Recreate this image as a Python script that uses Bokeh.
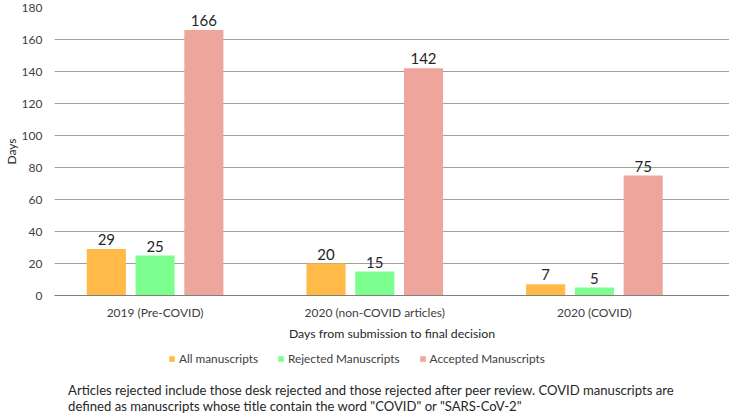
from bokeh.plotting import figure
from bokeh.layouts import column
from bokeh.models import (ColumnDataSource, Range1d, FixedTicker, Legend, LegendItem, Label)
from bokeh.transform import dodge
from bokeh.core.properties import value
from bokeh.embed import file_html
from bokeh.resources import INLINE

categories = ["2019 (Pre-COVID)", "2020 (non-COVID articles)", "2020 (COVID)"]
all_manuscripts = [29, 20, 7]
rejected_manuscripts = [25, 15, 5]
accepted_manuscripts = [166, 142, 75]
series_names = ["All manuscripts", "Rejected Manuscripts", "Accepted Manuscripts"]
y_ticks = [0, 20, 40, 60, 80, 100, 120, 140, 160, 180]
footnote = ["Articles rejected include those desk rejected and those rejected after peer review. COVID manuscripts are",
            "defined as manuscripts whose title contain the word \"COVID\" or \"SARS-CoV-2\""]

FONT = "Lato"
colors = ["#FFBA47", "#7DFF8F", "#EDA59C"]
offsets = [-0.222, 0.0, 0.222]
cols = ["all", "rej", "acc"]

src = ColumnDataSource(dict(
    x=list(range(len(categories))),
    all=all_manuscripts,
    rej=rejected_manuscripts,
    acc=accepted_manuscripts,
    all_t=[str(v) for v in all_manuscripts],
    rej_t=[str(v) for v in rejected_manuscripts],
    acc_t=[str(v) for v in accepted_manuscripts],
))

W = 729
H1 = 348
xr = Range1d(-0.458, 2.615)
p = figure(width=W, height=H1, output_backend="svg", toolbar_location=None,
           x_range=xr, y_range=Range1d(0, 180),
           min_border_left=0, min_border_right=0, min_border_top=7, min_border_bottom=53)
p.outline_line_color = None
p.background_fill_color = "white"

for col, c, off in zip(cols, colors, offsets):
    p.vbar(x=dodge("x", off, range=p.x_range), top=col, width=0.178, source=src,
           fill_color=c, line_color=None)
    p.text(x=dodge("x", off, range=p.x_range), y=col, text=col + "_t", source=src,
           text_align="center", text_baseline="bottom", y_offset=-4,
           text_font=value(FONT), text_font_size="15px", text_color="#262626")

# axes
p.xaxis.ticker = FixedTicker(ticks=[0, 1, 2])
p.xaxis.major_label_overrides = {i: c for i, c in enumerate(categories)}
p.xaxis.major_tick_line_color = None
p.xaxis.minor_tick_line_color = None
p.xaxis.axis_line_color = "#7f7f7f"
p.xaxis.major_label_standoff = 3
p.xaxis.major_label_text_font = FONT
p.xaxis.major_label_text_font_size = "12px"
p.xaxis.major_label_text_color = "#404040"
p.xaxis.axis_label = "Days from submission to final decision"
p.xaxis.axis_label_text_font = FONT
p.xaxis.axis_label_text_font_size = "12.3px"
p.xaxis.axis_label_text_font_style = "normal"
p.xaxis.axis_label_text_color = "#262626"
p.xaxis.axis_label_standoff = 3

p.yaxis.ticker = FixedTicker(ticks=y_ticks)
p.yaxis.axis_line_color = None
p.yaxis.major_tick_line_color = None
p.yaxis.minor_tick_line_color = None
p.yaxis.major_label_standoff = 6
p.yaxis.major_label_text_font = FONT
p.yaxis.major_label_text_font_size = "12px"
p.yaxis.major_label_text_color = "#404040"
p.yaxis.axis_label = "Days"
p.yaxis.axis_label_text_font = FONT
p.yaxis.axis_label_text_font_size = "12px"
p.yaxis.axis_label_text_font_style = "normal"
p.yaxis.axis_label_text_color = "#262626"
p.yaxis.axis_label_standoff = 0

p.xgrid.grid_line_color = None
p.ygrid.ticker = FixedTicker(ticks=y_ticks)
p.ygrid.grid_line_color = "#a0a0a0"
p.ygrid.grid_line_width = 1

# bottom panel: legend + footnote (bars drawn here lie outside its visible y range)
H2 = 65
q = figure(width=W, height=H2, output_backend="svg", toolbar_location=None,
           x_range=xr, y_range=Range1d(-H2, 0),
           x_axis_location=None, y_axis_location=None,
           min_border_left=0, min_border_right=0, min_border_top=0, min_border_bottom=0)
q.grid.visible = False
q.outline_line_color = None

leg_renderers = [q.vbar(x=dodge("x", off, range=q.x_range), top=col, bottom=0, width=0.178,
                        source=src, fill_color=c, line_color=None)
                 for col, c, off in zip(cols, colors, offsets)]
legend = Legend(items=[LegendItem(label=n, renderers=[r]) for n, r in zip(series_names, leg_renderers)],
                orientation="horizontal", location=(114, 47),
                border_line_color=None, background_fill_alpha=0,
                label_text_font=FONT, label_text_font_size="11.8px", label_text_color="#404040",
                glyph_width=7, glyph_height=7, label_standoff=4, spacing=19,
                padding=4, margin=0)
q.add_layout(legend, "center")

for line, yy in zip(footnote, [-41, -57]):
    q.add_layout(Label(x=-0.396, y=yy, text=line, text_font=FONT, text_font_size="13.1px",
                       text_baseline="middle", text_align="left", text_color="#262626"))

layout = column(p, q, spacing=0)
open("out.html", "w").write(file_html(layout, INLINE))
